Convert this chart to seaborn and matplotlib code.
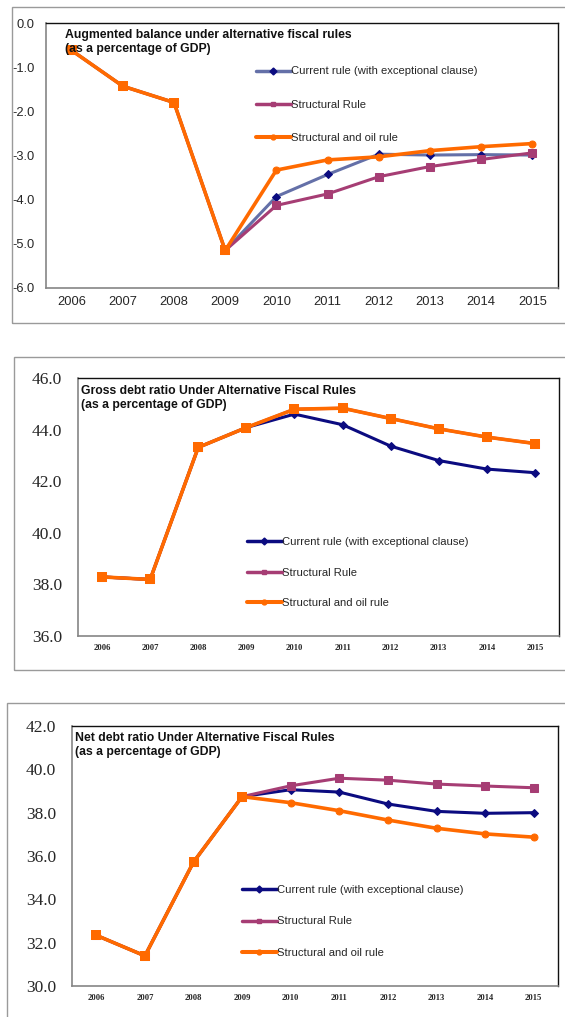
import matplotlib
matplotlib.use("Agg")
import matplotlib.pyplot as plt
import seaborn as sns
import pandas as pd
from matplotlib.lines import Line2D
from matplotlib.patches import Rectangle

# ---------------- data ----------------
years = ["2006", "2007", "2008", "2009", "2010", "2011", "2012", "2013", "2014", "2015"]
series_names = ["Current rule (with exceptional clause)", "Structural Rule", "Structural and oil rule"]

bal_current = [-0.62, -1.43, -1.80, -5.15, -3.93, -3.43, -2.97, -2.99, -2.98, -2.99]
bal_structural = [-0.62, -1.43, -1.80, -5.15, -4.13, -3.87, -3.48, -3.25, -3.09, -2.94]
bal_oil = [-0.62, -1.43, -1.80, -5.15, -3.33, -3.10, -3.03, -2.89, -2.80, -2.73]

gross_current = [38.29, 38.19, 43.31, 44.08, 44.60, 44.19, 43.36, 42.80, 42.47, 42.33]
gross_structural = [38.29, 38.19, 43.31, 44.08, 44.79, 44.83, 44.43, 44.03, 43.71, 43.46]
gross_oil = [38.29, 38.19, 43.31, 44.08, 44.79, 44.83, 44.43, 44.03, 43.71, 43.46]

net_current = [32.34, 31.39, 35.72, 38.74, 39.06, 38.95, 38.40, 38.06, 37.97, 38.00]
net_structural = [32.34, 31.39, 35.72, 38.74, 39.24, 39.59, 39.50, 39.32, 39.23, 39.15]
net_oil = [32.34, 31.39, 35.72, 38.74, 38.46, 38.09, 37.66, 37.28, 37.02, 36.87]

titles = [
    "Augmented balance under alternative fiscal rules\n(as a percentage of GDP)",
    "Gross debt ratio Under Alternative Fiscal Rules\n(as a percentage of GDP)",
    "Net debt ratio Under Alternative Fiscal Rules\n(as a percentage of GDP)",
]
y_ranges = [(-6.0, 0.0, 1.0), (36.0, 46.0, 2.0), (30.0, 42.0, 2.0)]

# ---------------- style ----------------
sns.set_style("white")
plt.rcParams["font.family"] = ["Liberation Sans", "DejaVu Sans"]

W, H = 565, 1017
fig = plt.figure(figsize=(W / 100, H / 100), dpi=100)


def fx(x):
    return x / W


def fy(y):
    return 1 - y / H


ORANGE = "#FF6A00"
PURPLE = "#A63D74"
NAVY = "#0B0B80"

# outer gray frames (pixel coords: left, top, right, bottom)
for l, t, r, b in [(12, 7, 600, 323), (14, 357, 600, 670), (7, 703, 600, 1060)]:
    fig.add_artist(Rectangle((fx(l), fy(b)), fx(r - l), (b - t) / H, transform=fig.transFigure,
                             fill=False, edgecolor="#9a9a9a", lw=1.0))

# axes boxes (left, top, right, bottom) in pixels
boxes = [(46, 23, 558, 288), (78, 378, 559, 636), (72, 726, 558, 986)]
panels = [
    (bal_current, bal_structural, bal_oil),
    (gross_current, gross_structural, gross_oil),
    (net_current, net_structural, net_oil),
]
title_pos = [(65, 42), (81, 398), (75, 745)]
legend_pos = [(256, 104.5, 2.05), (247, 572.5, 1.85), (242, 921.5, 1.9)]

for i, ((l, t, r, b), (cur, struc, oil)) in enumerate(zip(boxes, panels)):
    ax = fig.add_axes([fx(l), fy(b), fx(r - l), (b - t) / H])
    cur_line = "#6470A8" if i == 0 else NAVY
    cur_mark = NAVY

    df = pd.DataFrame({
        "year": years * 3,
        "value": list(cur) + list(struc) + list(oil),
        "series": [n for n in series_names for _ in years],
    })
    styles = {
        series_names[0]: dict(color=cur_line, lw=2.2, marker="D", markersize=4.5,
                              markerfacecolor=cur_mark, markeredgecolor=cur_mark),
        series_names[1]: dict(color=PURPLE, lw=2.2, marker="s", markersize=5.5,
                              markerfacecolor=PURPLE, markeredgecolor=PURPLE),
        series_names[2]: dict(color=ORANGE, lw=2.6, marker="o", markersize=5,
                              markerfacecolor=ORANGE, markeredgecolor=ORANGE),
    }
    for name in series_names:
        sub = df[df["series"] == name]
        sns.lineplot(data=sub, x="year", y="value", ax=ax, legend=False, sort=False,
                     **styles[name])

    # where structural and oil coincide, orange squares are drawn on top
    shared = df[df["series"] == series_names[2]].copy()
    shared = shared[[s == o for s, o in zip(struc, oil)]]
    sns.scatterplot(data=shared, x="year", y="value", ax=ax, marker="s", s=42,
                    color=ORANGE, edgecolor=ORANGE, linewidth=0, zorder=5, legend=False)

    lo, hi, step = y_ranges[i]
    ax.set_ylim(lo, hi)
    ax.set_xlim(-0.5, len(years) - 0.5)
    nt = int(round((hi - lo) / step)) + 1
    ticks = [lo + k * step for k in range(nt)]
    ax.set_yticks(ticks)
    ax.set_yticklabels([f"{v:.1f}" for v in ticks])
    ax.set_xlabel("")
    ax.set_ylabel("")

    if i == 0:
        ax.tick_params(axis="y", length=0, pad=8, labelsize=9.3)
        ax.tick_params(axis="x", length=0, pad=5.5, labelsize=9.3)
    else:
        ax.tick_params(axis="y", length=0, pad=11.5, labelsize=12.5)
        ax.tick_params(axis="x", length=0, pad=5.5, labelsize=6.2)
        for lab in ax.get_yticklabels():
            lab.set_fontfamily(["Liberation Serif", "DejaVu Serif"])
        for lab in ax.get_xticklabels():
            lab.set_fontfamily(["Liberation Serif", "DejaVu Serif"])
            lab.set_fontweight("bold")

    for side in ["left", "bottom"]:
        ax.spines[side].set_color("#858585")
        ax.spines[side].set_linewidth(1.2)
    for side in ["top", "right"]:
        ax.spines[side].set_color("#111111")
        ax.spines[side].set_linewidth(1.0)

    tx, ty = title_pos[i]
    fig.text(fx(tx), fy(ty), titles[i], ha="left", va="center", fontsize=8.8,
             fontweight="bold", linespacing=1.3, color="#111111")

    handles = []
    for name in series_names:
        st = styles[name]
        handles.append(Line2D([], [], color=st["color"], lw=st["lw"] + 0.3, marker=st["marker"],
                              markersize=3.5, markerfacecolor=st["markerfacecolor"],
                              markeredgecolor=st["markeredgecolor"]))
    lx, ly, lsp = legend_pos[i]
    ax.legend(handles, series_names, loc="center left", bbox_to_anchor=(fx(lx), fy(ly)),
              bbox_transform=fig.transFigure, frameon=False, fontsize=8.1,
              handlelength=3.1, handletextpad=0.05, borderpad=0, borderaxespad=0,
              labelspacing=lsp)

fig.savefig("out.png", dpi=100)
